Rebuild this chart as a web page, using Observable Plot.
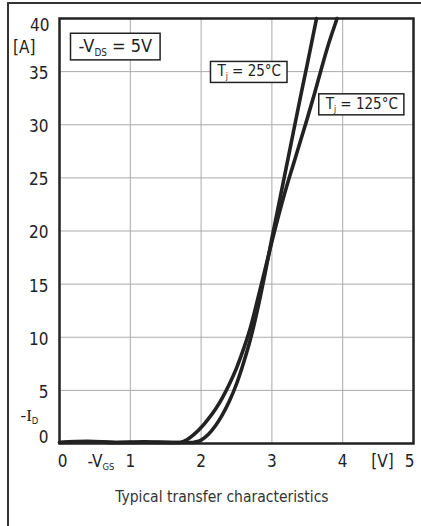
<!DOCTYPE html>
<html>
<head>
<meta charset="utf-8">
<script src="https://cdn.jsdelivr.net/npm/d3@7"></script>
<script src="https://cdn.jsdelivr.net/npm/@observablehq/plot@0.6"></script>
<style>
  body { margin: 0; background: #fff; }
  #wrap { position: relative; width: 421px; height: 526px; overflow: hidden; background: #fff; }
  #chart { position: absolute; left: 0; top: 0; }
  .bl { position: absolute; left: 7px; top: 2px; width: 2px; height: 530px; background: #333; }
  .bt { position: absolute; left: 7px; top: 2px; width: 420px; height: 2px; background: #333; }
  #cap { position: absolute; top: 488px; left: 222px; transform: translateX(-50%); white-space: nowrap;
         font-family: 'DejaVu Sans Condensed', 'DejaVu Sans', sans-serif; font-stretch: condensed;
         font-size: 15.5px; color: #333; }
</style>
</head>
<body>
<div id="wrap">
  <div id="chart"></div>
  <div class="bl"></div>
  <div class="bt"></div>
  <div id="cap">Typical transfer characteristics</div>
</div>
<script>
// -V_GS [V] vs -I_D [A], Tj = 25°C
const vgs25 = [0, 0.4, 0.8, 1.2, 1.6, 1.88, 1.95, 2.0, 2.1, 2.2, 2.3, 2.4, 2.5, 2.6, 2.7, 2.8, 2.9, 3.0, 3.1, 3.2, 3.3, 3.4, 3.5, 3.6, 3.63];
const id25  = [0.1, 0.15, 0.1, 0.1, 0.1, 0.1, 0.18, 0.32, 0.85, 1.65, 2.7, 4.0, 5.6, 7.6, 9.9, 12.7, 15.9, 19.3, 22.6, 25.9, 29.2, 32.5, 35.7, 39.0, 40];
// Tj = 125°C
const vgs125 = [0, 0.4, 0.8, 1.2, 1.6, 1.7, 1.8, 1.9, 2.0, 2.1, 2.2, 2.3, 2.4, 2.5, 2.6, 2.7, 2.8, 2.9, 3.0, 3.1, 3.2, 3.3, 3.4, 3.5, 3.6, 3.7, 3.8, 3.9, 3.92];
const id125  = [0.1, 0.2, 0.1, 0.15, 0.1, 0.1, 0.35, 0.85, 1.5, 2.3, 3.2, 4.3, 5.6, 7.1, 8.9, 11.0, 13.6, 16.3, 19.0, 21.6, 24.0, 26.2, 28.4, 30.6, 32.9, 35.3, 37.6, 39.6, 40];

const xTicks = [0, 1, 2, 3, 4, 5];
const yTicks = [0, 5, 10, 15, 20, 25, 30, 35, 40];
const xUnit = "[V]";
const yUnit = "[A]";
const xName = "-V_{GS}";
const yName = "-I_{D}";
const noteVds = "-V_{DS} = 5V";
const note25 = "T_{j} = 25°C";
const note125 = "T_{j} = 125°C";

const s25 = vgs25.map((v, i) => ({v, i: id25[i]}));
const s125 = vgs125.map((v, i) => ({v, i: id125[i]}));

const font = "'DejaVu Sans Condensed', 'DejaVu Sans', sans-serif";
const ink = "#222";

const plot = Plot.plot({
  width: 421,
  height: 480,
  marginLeft: 59,
  marginRight: 8,
  marginTop: 18,
  marginBottom: 37,
  style: {fontFamily: font, fontStretch: "condensed", fontSize: "17px", color: ink, background: "transparent"},
  x: {domain: [0, 5], axis: null},
  y: {domain: [0, 40], axis: null},
  marks: [
    Plot.ruleX(xTicks.filter(d => d > 0 && d < 5), {stroke: "#aaa", strokeWidth: 1}),
    Plot.ruleY(yTicks.filter(d => d > 0 && d < 40), {stroke: "#aaa", strokeWidth: 1}),
    Plot.line(s125, {x: "v", y: "i", stroke: ink, strokeWidth: 3.6, curve: "monotone-x"}),
    Plot.line(s25, {x: "v", y: "i", stroke: ink, strokeWidth: 3.6, curve: "monotone-x"}),
    Plot.frame({stroke: ink, strokeWidth: 2.5}),
    // y tick labels
    Plot.text(yTicks.filter(d => d > 0 && d < 40), {x: 0, y: d => d, text: d => String(d), textAnchor: "end", dx: -11, dy: 2, fontSize: 17}),
    Plot.text(yTicks.filter(d => d === 40), {x: 0, y: d => d, text: d => String(d), textAnchor: "end", dx: -10, dy: 7, fontSize: 17}),
    Plot.text(yTicks.filter(d => d === 0), {x: 0, y: d => d, text: d => String(d), textAnchor: "end", dx: -11, dy: -6, fontSize: 17}),
    Plot.text([yUnit], {x: 0, y: 40, text: d => d, textAnchor: "end", dx: -24, dy: 29, fontSize: 17}),
    Plot.text([yName], {x: 0, y: 0, text: d => d, textAnchor: "start", dx: -39, dy: -28, fontSize: 17, fontFamily: "'Liberation Serif', serif"}),
    // x tick labels
    Plot.text(xTicks.filter(d => d > 0 && d < 5), {x: d => d, y: 0, text: d => String(d), dy: 18, fontSize: 17}),
    Plot.text(xTicks.filter(d => d === 0), {x: d => d, y: 0, text: d => String(d), dx: 3, dy: 18, fontSize: 17}),
    Plot.text(xTicks.filter(d => d === 5), {x: d => d, y: 0, text: d => String(d), dx: -4, dy: 18, fontSize: 17}),
    Plot.text([xName], {x: 0, y: 0, text: d => d, textAnchor: "start", dx: 28, dy: 18, fontSize: 17}),
    Plot.text([xUnit], {x: 5, y: 0, text: d => d, dx: -31, dy: 18, fontSize: 17}),
    // annotations
    Plot.text([noteVds], {x: 0, y: 40, text: d => d, textAnchor: "start", dx: 19, dy: 28, fontSize: 18}),
    Plot.text([note25], {x: 2.68, y: 35, text: d => d, fontSize: 15}),
    Plot.text([note125], {x: 4.27, y: 31.95, text: d => d, fontSize: 15})
  ]
});

document.getElementById("chart").appendChild(plot);

const boxed = new Set([noteVds, note25, note125]);
d3.select(plot).selectAll("text").each(function() {
  const t = this.textContent;
  const isBox = boxed.has(t);
  if (t.includes("_{")) {
    const fs = parseFloat(getComputedStyle(this).fontSize) || 17;
    const parts = t.split(/(_\{[^}]*\})/);
    const sel = d3.select(this);
    sel.text(null);
    let shifted = false;
    parts.forEach(p => {
      if (!p) return;
      const m = p.match(/^_\{(.*)\}$/);
      if (m) {
        sel.append("tspan").attr("font-size", fs * 0.55).attr("font-family", font).attr("dy", fs * 0.2).text(m[1]);
        shifted = true;
      } else {
        const ts = sel.append("tspan").text(p);
        if (shifted) { ts.attr("dy", -fs * 0.2); shifted = false; }
      }
    });
  }
  if (isBox) {
    const bb = this.getBBox();
    const padX = t === noteVds ? 8 : 6;
    const padY = t === noteVds ? 2 : 1;
    const r = document.createElementNS("http://www.w3.org/2000/svg", "rect");
    r.setAttribute("x", bb.x - padX);
    r.setAttribute("y", bb.y - padY);
    r.setAttribute("width", bb.width + 2 * padX);
    r.setAttribute("height", bb.height + 2 * padY);
    r.setAttribute("fill", "#fff");
    r.setAttribute("stroke", ink);
    r.setAttribute("stroke-width", 1.5);
    const tr = this.getAttribute("transform");
    if (tr) r.setAttribute("transform", tr);
    this.parentNode.insertBefore(r, this);
  }
});
</script>
</body>
</html>
